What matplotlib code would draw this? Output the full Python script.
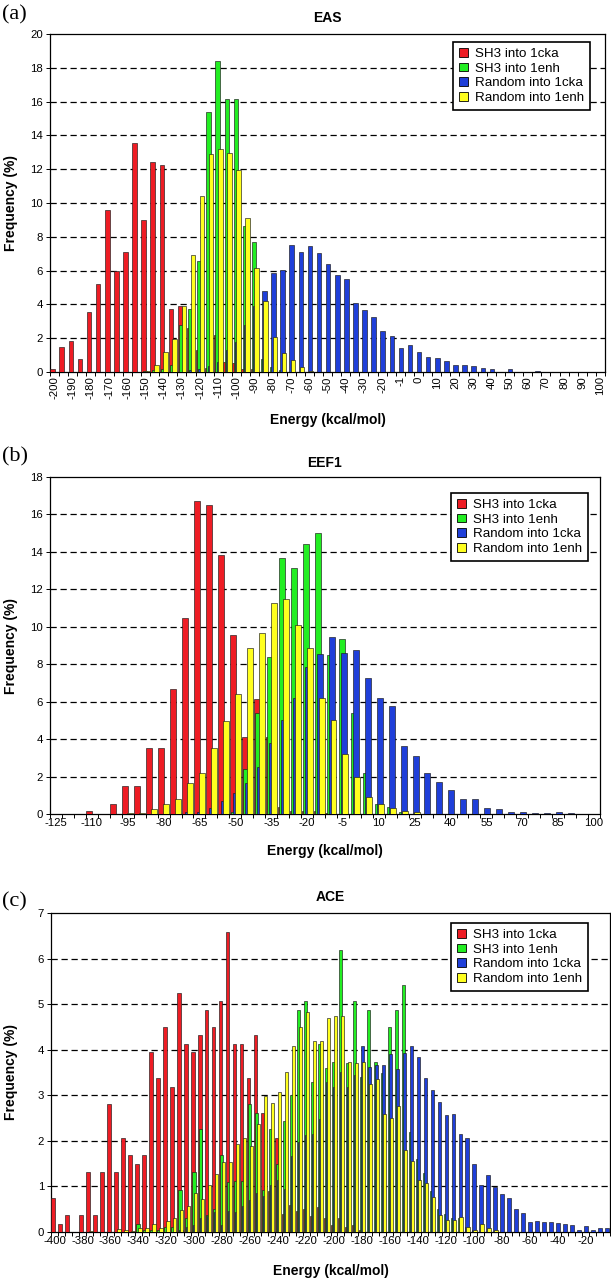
import numpy as np
import matplotlib
matplotlib.use('Agg')
import matplotlib.pyplot as plt
from matplotlib.patches import Patch

plt.rcParams['font.family'] = ['Liberation Sans', 'DejaVu Sans']

W, H = 611, 1280

series_names = ['SH3 into 1cka', 'SH3 into 1enh', 'Random into 1cka', 'Random into 1enh']
series_colors = ['#ee1c24', '#22ee22', '#1f3fd9', '#ffff1f']

# ---------------- (a) EAS : bins of 5 kcal/mol, -200 .. 100
eas_energy = np.arange(-200, 101, 5)
eas_ticklabels = ['-200', '-190', '-180', '-170', '-160', '-150', '-140', '-130', '-120', '-110',
                  '-100', '-90', '-80', '-70', '-60', '-50', '-40', '-30', '-20', '-1',
                  '0', '10', '20', '30', '40', '50', '60', '70', '80', '90', '100']
eas_sh3_1cka = [0.16, 1.5, 1.86, 0.75, 3.54, 5.22, 9.57, 5.99, 7.11, 13.53,
                9.01, 12.43, 12.24, 3.75, 3.91, 2.6, 1.3, 0.25, 2.2, 0.6,
                0.55, 0.2, 0.2, 0, 0, 0, 0, 0, 0, 0,
                0, 0, 0, 0, 0, 0, 0, 0, 0, 0,
                0, 0, 0, 0, 0, 0, 0, 0, 0, 0,
                0, 0, 0, 0, 0, 0, 0, 0, 0, 0,
                0]
eas_sh3_1enh = [0, 0, 0, 0, 0, 0, 0, 0, 0, 0,
                0.05, 0.1, 0.2, 0.4, 2.79, 3.75, 6.56, 15.39, 18.39, 16.14,
                16.14, 8.66, 7.67, 0.75, 0.3, 0.1, 0, 0, 0, 0,
                0, 0, 0, 0, 0, 0, 0, 0, 0, 0,
                0, 0, 0, 0, 0, 0, 0, 0, 0, 0,
                0, 0, 0, 0, 0, 0, 0, 0, 0, 0,
                0]
eas_rand_1cka = [0, 0, 0, 0, 0, 0, 0, 0, 0, 0,
                 0, 0, 0, 0, 0, 0.1, 0.15, 0.35, 0.6, 1.3,
                 1.8, 2.8, 3.9, 4.78, 5.85, 6.03, 7.51, 7.13, 7.47, 7.07,
                 6.38, 5.73, 5.49, 4.07, 3.68, 3.26, 2.43, 2.11, 1.44, 1.58,
                 1.19, 0.91, 0.85, 0.65, 0.4, 0.4, 0.34, 0.26, 0.16, 0.02,
                 0.16, 0.02, 0.02, 0.08, 0, 0, 0, 0, 0, 0,
                 0]
eas_rand_1enh = [0, 0, 0, 0, 0, 0, 0, 0, 0, 0,
                 0.08, 0.41, 1.2, 1.96, 3.91, 6.92, 10.4, 12.88, 13.22, 12.94,
                 11.96, 9.09, 6.13, 4.21, 2.06, 1.15, 0.71, 0.3, 0.05, 0,
                 0, 0, 0, 0, 0, 0, 0, 0, 0, 0,
                 0, 0, 0, 0, 0, 0, 0, 0, 0, 0,
                 0, 0, 0, 0, 0, 0, 0, 0, 0, 0,
                 0]

# ---------------- (b) EEF1 : bins of 5 kcal/mol, -125 .. 100
eef_energy = np.arange(-125, 101, 5)
eef_ticklabels = ['-125', '-110', '-95', '-80', '-65', '-50', '-35', '-20',
                  '-5', '10', '25', '40', '55', '70', '85', '100']
eef_sh3_1cka = [0.02, 0, 0, 0.16, 0, 0.53, 1.5, 1.5, 3.55, 3.55,
                6.7, 10.48, 16.7, 16.52, 13.85, 9.55, 4.1, 6.15, 4.1, 0.35,
                0.15, 0.15, 0.15, 0.05, 0, 0, 0, 0, 0, 0,
                0, 0, 0, 0, 0, 0, 0, 0, 0, 0,
                0, 0, 0, 0, 0, 0]
eef_sh3_1enh = [0, 0, 0, 0, 0, 0, 0, 0, 0, 0,
                0, 0, 0, 0, 0, 0.1, 2.41, 5.4, 8.41, 13.69,
                13.14, 14.44, 15.03, 8.5, 9.34, 5.4, 2.19, 0.53, 0.35, 0.1,
                0, 0, 0, 0, 0, 0, 0, 0, 0, 0,
                0, 0, 0, 0, 0, 0]
eef_rand_1cka = [0, 0, 0, 0, 0, 0, 0, 0, 0, 0,
                 0, 0.1, 0.1, 0.32, 0.71, 1.12, 1.64, 2.5, 3.8, 5.04,
                 6.2, 7.84, 8.56, 9.45, 8.6, 8.77, 7.27, 6.2, 5.78, 3.65,
                 3.1, 2.21, 1.73, 1.27, 0.78, 0.82, 0.3, 0.27, 0.1, 0.12,
                 0.05, 0.05, 0.1, 0.05, 0, 0]
eef_rand_1enh = [0, 0, 0, 0, 0, 0, 0.07, 0.07, 0.25, 0.53,
                 0.8, 1.64, 2.21, 3.53, 4.96, 6.42, 8.88, 9.68, 11.27, 11.48,
                 10.09, 8.84, 6.22, 5.04, 3.19, 2.0, 0.89, 0.53, 0.32, 0.18,
                 0.1, 0, 0, 0, 0, 0, 0, 0, 0, 0,
                 0, 0, 0, 0, 0, 0]

# ---------------- (c) ACE : bins of 5 kcal/mol, -400 .. -5
ace_energy = np.arange(-400, 0, 5)
ace_ticklabels = ['-400', '-380', '-360', '-340', '-320', '-300', '-280', '-260', '-240', '-220',
                  '-200', '-180', '-160', '-140', '-120', '-100', '-80', '-60', '-40', '-20']
ace_sh3_1cka = [0.75, 0.18, 0.37, 0, 0.37, 1.31, 0.37, 1.31, 2.81, 1.31,
                2.06, 1.68, 1.5, 1.68, 3.94, 3.38, 4.5, 3.19, 5.24, 4.13,
                3.94, 4.32, 4.88, 4.5, 5.06, 6.58, 4.13, 4.13, 3.38, 4.32,
                2.62, 0.9, 2.06, 0.4, 0.6, 0.45, 0.5, 0.35, 0.55, 0.3,
                0.15, 0.3, 0.1, 0.15, 0.05, 0, 0, 0, 0, 0,
                0, 0, 0, 0, 0, 0, 0, 0, 0, 0,
                0, 0, 0, 0, 0, 0, 0, 0, 0, 0,
                0, 0, 0, 0, 0, 0, 0, 0, 0, 0]
ace_sh3_1enh = [0, 0, 0, 0, 0, 0, 0, 0, 0, 0,
                0, 0, 0.18, 0.05, 0.05, 0.05, 0.1, 0.1, 0.92, 0.3,
                1.31, 2.25, 0.37, 0.5, 1.68, 1.1, 1.11, 1.11, 2.8, 2.62,
                0.93, 2.27, 1.49, 2.44, 3.0, 4.88, 5.06, 3.3, 4.13, 3.6,
                3.74, 6.18, 3.7, 5.06, 3.4, 4.88, 3.74, 3.5, 4.5, 4.88,
                5.43, 2.2, 1.6, 1.3, 0.9, 0.5, 0.4, 0.3, 0.3, 0.1,
                0.05, 0, 0, 0, 0, 0, 0, 0, 0, 0,
                0, 0, 0, 0, 0, 0, 0, 0, 0, 0]
ace_rand_1cka = [0, 0, 0, 0, 0, 0, 0, 0, 0, 0,
                 0, 0, 0, 0, 0, 0, 0, 0, 0.05, 0.1,
                 0.15, 0.3, 0.35, 0.44, 0.15, 0.45, 0.44, 0.58, 0.7, 0.86,
                 0.78, 1.03, 1.14, 0.95, 1.66, 1.98, 2.13, 2.14, 2.49, 3.3,
                 3.19, 3.52, 3.19, 3.45, 4.09, 3.63, 3.66, 3.66, 3.9, 3.57,
                 3.92, 4.08, 3.85, 3.39, 3.12, 2.85, 2.57, 2.59, 2.14, 2.07,
                 1.5, 1.04, 1.26, 0.99, 0.84, 0.75, 0.51, 0.41, 0.22, 0.24,
                 0.22, 0.22, 0.2, 0.18, 0.15, 0.05, 0.13, 0.05, 0.08, 0.08]
ace_rand_1enh = [0, 0, 0, 0, 0, 0.03, 0, 0, 0, 0.07,
                 0.05, 0.03, 0.08, 0.08, 0.18, 0.08, 0.25, 0.31, 0.48, 0.58,
                 0.86, 0.72, 1.03, 1.28, 1.54, 1.54, 1.94, 2.07, 1.89, 2.36,
                 2.98, 2.84, 3.07, 3.52, 4.08, 4.49, 4.82, 4.19, 4.19, 4.69,
                 4.75, 4.74, 3.72, 3.7, 3.72, 3.25, 3.36, 2.58, 2.51, 2.77,
                 1.81, 1.55, 1.14, 1.08, 0.76, 0.38, 0.27, 0.27, 0.32, 0.11,
                 0.05, 0.18, 0.08, 0.05, 0, 0, 0, 0, 0, 0,
                 0, 0, 0, 0, 0, 0, 0, 0, 0, 0]

fig = plt.figure(figsize=(W / 100, H / 100), dpi=100)


def fx(x):
    return x / W


def fy(y):
    return 1 - y / H


def draw_panel(box, tag, title, energy, series, ticklabels, every, ymax, ystep, rotate,
               tag_y, title_y, xlabel_y, legend_xy):
    left, top, right, bottom = box
    ax = fig.add_axes([fx(left), fy(bottom), fx(right - left), (bottom - top) / H])
    n = len(energy)
    x = np.arange(n)
    offsets = [-0.21, -0.07, 0.07, 0.21]
    for k, vals in enumerate(series):
        ax.bar(x + offsets[k], vals, width=0.5, color=series_colors[k],
               edgecolor='#1a1a1a', linewidth=0.45, zorder=3 + k)
    ax.set_xlim(-0.5, n - 0.5)
    ax.set_ylim(0, ymax)
    yt = np.arange(0, ymax + 0.001, ystep)
    ax.set_yticks(yt)
    ax.set_yticklabels([str(int(v)) for v in yt])
    for y in yt[1:-1]:
        ax.axhline(y, color='black', lw=0.9, ls=(0, (5, 3)), zorder=1)
    ax.set_xticks(np.arange(n + 1) - 0.5)
    ax.set_xticklabels([])
    ax.set_xticks(np.arange(0, n, every), minor=True)
    ax.set_xticklabels(ticklabels, minor=True, rotation=90 if rotate else 0)
    ax.tick_params(axis='x', which='major', length=3, width=0.7, direction='out')
    ax.tick_params(axis='x', which='minor', length=0, pad=3, labelsize=8.2)
    ax.tick_params(axis='y', length=3, width=0.7, labelsize=8.2, pad=2)
    for s in ax.spines.values():
        s.set_linewidth(0.9)
        s.set_color('black')

    handles = [Patch(facecolor=c, edgecolor='black', linewidth=0.6) for c in series_colors]
    leg = ax.legend(handles, series_names, loc='upper right',
                    bbox_to_anchor=(fx(legend_xy[0]), fy(legend_xy[1])),
                    bbox_transform=fig.transFigure, frameon=True, fancybox=False,
                    edgecolor='black', framealpha=1, fontsize=9.6,
                    handlelength=0.65, handleheight=0.65, handletextpad=0.55,
                    labelspacing=0.18, borderpad=0.45, borderaxespad=0)
    leg.get_frame().set_linewidth(1.2)
    leg.set_zorder(10)

    fig.text(fx(2), fy(tag_y), tag, family='Liberation Serif', fontsize=16, ha='left', va='center')
    fig.text(fx((left + right) / 2), fy(title_y), title, fontsize=10, weight='bold',
             ha='center', va='center')
    fig.text(fx((left + right) / 2), fy(xlabel_y), 'Energy (kcal/mol)', fontsize=10,
             weight='bold', ha='center', va='center')
    fig.text(fx(11), fy((top + bottom) / 2), 'Frequency (%)', fontsize=10, weight='bold',
             rotation=90, ha='center', va='center')
    return ax


draw_panel((50, 34, 605, 372), '(a)', 'EAS', eas_energy,
           [eas_sh3_1cka, eas_sh3_1enh, eas_rand_1cka, eas_rand_1enh],
           eas_ticklabels, 2, 20, 2, True, 15, 18, 420, (590, 42))

draw_panel((50, 477, 600, 814), '(b)', 'EEF1', eef_energy,
           [eef_sh3_1cka, eef_sh3_1enh, eef_rand_1cka, eef_rand_1enh],
           eef_ticklabels, 3, 18, 2, False, 457, 463, 851, (588, 493))

draw_panel((51, 913, 610, 1232), '(c)', 'ACE', ace_energy,
           [ace_sh3_1cka, ace_sh3_1enh, ace_rand_1cka, ace_rand_1enh],
           ace_ticklabels, 4, 7, 1, False, 902, 897, 1271, (588, 923))

fig.savefig('out.png', dpi=100)
